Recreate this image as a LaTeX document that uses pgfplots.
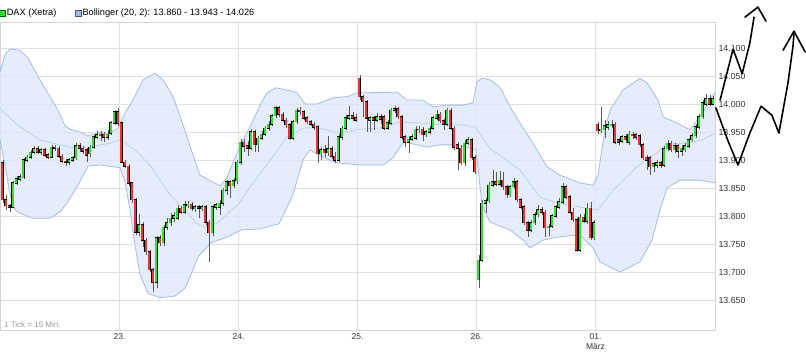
\documentclass[border=0pt]{standalone}
\usepackage{pgfplots}
\pgfplotsset{compat=1.18}
\usepackage{pgfplotstable}
\usepgfplotslibrary{fillbetween}
\usepackage{fontspec}
\setmainfont{Liberation Sans}
\definecolor{cgreen}{RGB}{45,225,45}
\definecolor{cred}{RGB}{238,50,50}
\definecolor{wickgray}{RGB}{90,90,90}
\definecolor{bandfill}{RGB}{222,232,251}
\definecolor{bandline}{RGB}{165,188,232}
\definecolor{midline}{RGB}{185,205,242}
\definecolor{gridgray}{RGB}{224,224,224}
\definecolor{framegray}{RGB}{212,212,212}
\definecolor{tickgray}{RGB}{51,51,51}
\definecolor{legblue}{RGB}{160,182,225}
\definecolor{legblueb}{RGB}{70,90,140}

\pgfplotstableread{
o h l c
13895 13900 13823 13829
13829 13838 13811 13818
13818 13821 13807 13816
13816 13863 13814 13859
13859 13871 13855 13866
13866 13875 13863 13870
13868 13904 13866 13900
13900 13909 13896 13905
13905 13918 13902 13914
13914 13925 13911 13920
13920 13925 13911 13914
13914 13921 13909 13918
13918 13921 13905 13909
13909 13913 13902 13905
13905 13927 13904 13923
13923 13927 13916 13921
13921 13925 13904 13907
13907 13911 13895 13898
13898 13902 13889 13896
13896 13904 13891 13900
13900 13907 13896 13904
13904 13930 13900 13925
13925 13930 13914 13921
13921 13925 13911 13916
13918 13921 13896 13909
13911 13927 13905 13923
13923 13945 13920 13941
13941 13952 13937 13945
13946 13952 13934 13943
13946 13950 13932 13941
13941 13954 13936 13946
13948 13970 13945 13966
13966 13989 13963 13986
13986 13993 13961 13966
13966 13968 13895 13896
13896 13900 13886 13889
13889 13893 13854 13859
13859 13861 13823 13829
13829 13832 13766 13771
13771 13804 13764 13784
13784 13789 13745 13757
13757 13761 13730 13736
13736 13739 13700 13704
13704 13707 13664 13682
13682 13764 13671 13761
13761 13766 13746 13752
13752 13784 13746 13780
13780 13796 13775 13788
13788 13805 13782 13796
13796 13807 13789 13800
13796 13820 13793 13814
13814 13818 13804 13807
13807 13827 13804 13820
13818 13827 13814 13821
13821 13825 13809 13813
13813 13820 13807 13816
13816 13820 13796 13814
13813 13820 13809 13816
13816 13820 13784 13789
13789 13793 13718 13770
13770 13820 13764 13816
13816 13823 13811 13820
13816 13829 13802 13823
13823 13850 13818 13846
13846 13864 13838 13861
13861 13864 13832 13854
13854 13868 13850 13863
13863 13900 13857 13896
13896 13937 13891 13932
13932 13937 13914 13925
13925 13934 13907 13921
13921 13955 13918 13950
13950 13954 13914 13927
13927 13943 13914 13939
13939 13952 13936 13946
13946 13961 13943 13957
13957 13970 13952 13964
13964 13982 13961 13979
13979 13996 13975 13993
13993 13996 13977 13982
13982 13986 13968 13971
13971 13975 13957 13963
13963 13966 13936 13939
13939 13971 13936 13968
13968 13993 13964 13989
13989 13995 13980 13986
13986 13989 13971 13975
13975 13979 13964 13968
13968 13971 13961 13964
13964 13968 13954 13959
13959 13963 13895 13911
13911 13923 13900 13918
13918 13927 13905 13913
13913 13943 13907 13920
13920 13925 13902 13907
13907 13914 13895 13900
13900 13946 13896 13941
13941 13961 13936 13957
13957 13980 13954 13975
13975 13996 13971 13979
13979 13986 13970 13975
13975 13982 13968 13971
14046 14052 14007 14013
14013 14016 13977 14004
14004 14007 13950 13975
13971 13979 13950 13975
13975 13979 13954 13971
13971 13984 13968 13977
13977 13982 13964 13973
13977 13980 13954 13957
13957 13971 13954 13966
13966 13993 13963 13989
13989 13996 13984 13991
13991 13995 13973 13977
13977 13980 13936 13941
13941 13945 13923 13932
13932 13943 13913 13937
13937 13946 13934 13941
13939 13961 13936 13955
13954 13961 13948 13955
13955 13959 13934 13945
13945 13954 13941 13950
13950 13961 13946 13957
13957 13979 13954 13975
13975 13989 13971 13982
13982 13986 13966 13970
13970 13973 13954 13964
13964 13993 13961 13989
13989 13993 13954 13957
13957 13961 13918 13923
13927 13932 13882 13921
13921 13927 13891 13895
13895 13936 13889 13930
13930 13941 13927 13936
13936 13939 13900 13904
13904 13909 13875 13879
13686 13730 13671 13721
13721 13829 13718 13823
13823 13832 13805 13827
13827 13861 13823 13855
13855 13882 13852 13861
13861 13879 13854 13857
13857 13880 13854 13864
13864 13879 13846 13852
13852 13855 13832 13838
13838 13855 13834 13852
13852 13868 13848 13861
13861 13864 13825 13829
13829 13832 13813 13816
13816 13820 13784 13788
13788 13791 13763 13775
13775 13793 13771 13788
13788 13807 13784 13802
13802 13820 13798 13811
13811 13816 13802 13807
13807 13811 13763 13779
13779 13786 13764 13782
13782 13804 13779 13800
13800 13820 13796 13816
13816 13832 13813 13825
13825 13859 13821 13852
13852 13855 13830 13834
13834 13838 13804 13807
13807 13814 13789 13793
13793 13796 13736 13739
13739 13804 13736 13798
13798 13804 13788 13791
13791 13823 13786 13814
13814 13825 13757 13761
13761 13793 13757 13788
13964 13968 13946 13952
13952 13995 13948 13955
13954 13971 13939 13961
13959 13970 13954 13963
13961 13971 13957 13964
13964 13968 13929 13932
13936 13939 13927 13932
13934 13945 13930 13941
13941 13946 13930 13936
13932 13952 13927 13946
13946 13950 13937 13943
13945 13948 13936 13941
13943 13946 13923 13927
13927 13930 13900 13904
13905 13909 13882 13900
13904 13907 13873 13888
13888 13896 13879 13893
13891 13900 13886 13895
13895 13898 13886 13891
13891 13925 13888 13920
13920 13936 13916 13930
13930 13934 13914 13918
13918 13930 13913 13925
13925 13929 13904 13916
13916 13927 13907 13921
13918 13930 13914 13925
13925 13939 13921 13936
13936 13948 13932 13943
13943 13964 13939 13959
13959 13982 13955 13977
13977 14007 13973 14002
14000 14018 13996 14009
14009 14016 13996 14000
14000 14014 13998 14009
}\candles

\pgfplotstableread{
x y
-0.14 14057
1.29 14088
2.71 14098
5.57 14096
7.86 14082
11.29 14043
14.14 14013
16.43 13989
18.43 13961
19.86 13955
22.71 13950
25.0 13943
27.57 13948
31.29 13948
33.57 13957
35.57 13984
37.86 14007
40.71 14043
44.14 14055
46.43 14043
49.29 14013
52.14 13963
55.0 13909
57.0 13873
59.86 13863
62.71 13854
64.71 13868
66.43 13896
69.29 13936
71.29 13959
74.14 13998
76.14 14020
78.71 14029
81.86 14025
84.71 14020
87.0 14000
90.43 14000
95.0 14011
99.0 14013
101.86 14020
103.57 14020
113.29 14021
116.14 14007
120.71 14007
123.57 13995
127.57 13998
132.14 13998
135.0 14002
136.14 14040
137.57 14046
139.86 14043
142.71 14030
145.57 13995
148.43 13966
152.14 13930
156.14 13888
159.86 13873
165.57 13859
169.29 13855
170.71 13873
172.71 13954
174.14 13989
177.86 14025
182.71 14046
184.71 14038
187.86 14007
189.29 13977
193.29 13966
197.0 13954
199.86 13977
202.71 14007
204.14 14021
}\bandU

\pgfplotstableread{
x y
-0.14 13991
5.57 13959
11.29 13936
17.0 13927
21.29 13921
25.57 13923
31.29 13930
34.14 13936
38.43 13918
43.0 13888
48.43 13838
52.71 13811
55.57 13789
58.43 13780
62.14 13788
65.0 13805
67.86 13820
72.71 13864
76.71 13896
81.57 13939
86.43 13957
91.0 13957
96.71 13948
103.0 13955
108.43 13957
114.14 13968
119.86 13966
125.57 13963
131.29 13963
135.57 13959
139.86 13920
142.71 13908
148.43 13882
154.14 13834
159.0 13823
165.57 13816
170.71 13811
175.0 13846
181.86 13888
187.57 13913
190.43 13930
196.14 13930
200.71 13936
204.14 13948
}\bandM

\pgfplotstableread{
x y
-0.14 13936
1.29 13891
2.71 13838
4.14 13811
5.57 13805
9.29 13796
14.14 13796
17.0 13807
19.0 13823
21.86 13852
25.0 13889
28.43 13891
32.14 13888
34.14 13886
35.57 13861
37.0 13811
38.43 13748
39.86 13695
42.14 13662
45.57 13654
49.86 13657
52.71 13671
54.14 13691
56.43 13727
60.14 13752
65.0 13763
68.71 13775
74.14 13777
79.57 13786
83.57 13838
86.43 13900
88.43 13918
92.14 13905
95.86 13895
103.0 13891
109.29 13891
112.14 13904
114.14 13923
115.57 13934
117.57 13929
121.86 13923
125.57 13927
129.29 13927
133.29 13923
135.86 13918
136.43 13886
137.57 13820
139.86 13789
145.57 13775
149.29 13757
151.29 13743
155.0 13757
159.86 13763
165.57 13766
169.29 13743
171.29 13718
177.0 13700
182.71 13718
186.14 13757
188.43 13811
190.43 13850
194.14 13864
199.86 13864
204.14 13859
}\bandL

\begin{document}
\begin{tikzpicture}
\begin{axis}[
  at={(0pt,0pt)}, anchor=south west,
  scale only axis, width=715pt, height=308pt,
  xmin=-0.143, xmax=204.143, ymin=13596.4, ymax=14146.4,
  clip=false,
  axis line style={draw=framegray, line width=0.8pt},
  xtick={34,68,102,136,170},
  xticklabels={23.,24.,25.,26.,{01.\\März}},
  xticklabel style={align=center, text=tickgray, font=\fontsize{8.5}{10}\selectfont},
  ytick={13650,13700,...,14100},
  yticklabel pos=right,
  yticklabel style={text=tickgray, font=\fontsize{8.8}{10}\selectfont},
  scaled y ticks=false,
  /pgf/number format/fixed,
  /pgf/number format/precision=0,
  /pgf/number format/1000 sep={.},
  /pgf/number format/assume math mode=true,
  major tick length=0pt,
  grid=major,
  grid style={draw=gridgray, line width=0.8pt},
  legend columns=2,
  legend cell align=left,
  legend style={at={(0,1)}, anchor=west, yshift=9pt, xshift=-1pt,
    draw=none, fill=none, inner sep=0pt,
    font=\fontsize{9.2}{10}\selectfont,
    nodes={inner sep=1.6pt},
    /tikz/every even column/.append style={column sep=17pt}},
]
\addlegendimage{legend image code/.code={\draw[fill=cgreen, draw=black!60!green] (0pt,-2.8pt) rectangle (5.6pt,2.8pt);}}
\addlegendentry{DAX (Xetra)}
\addlegendimage{legend image code/.code={\draw[fill=legblue, draw=legblueb] (0pt,-2.8pt) rectangle (5.6pt,2.8pt);}}
\addlegendentry{Bollinger (20, 2): 13.860 - 13.943 - 14.026}

% Bollinger bands
\addplot[draw=none, name path=U, forget plot] table[x=x, y=y] {\bandU};
\addplot[draw=none, name path=L, forget plot] table[x=x, y=y] {\bandL};
\addplot[fill=bandfill, fill opacity=0.8, forget plot] fill between[of=U and L];
\addplot[draw=bandline, line width=0.8pt, forget plot] table[x=x, y=y] {\bandU};
\addplot[draw=bandline, line width=0.8pt, forget plot] table[x=x, y=y] {\bandL};
\addplot[draw=midline, line width=0.7pt, forget plot] table[x=x, y=y] {\bandM};

% wicks
\addplot[forget plot, draw=none, mark=none,
  error bars/.cd, y dir=plus, y explicit, error mark=none,
  error bar style={line width=1pt, draw=wickgray}]
  table[x expr=\coordindex+0.8, y=l, y error plus expr={\thisrow{h}-\thisrow{l}}] {\candles};
% body outlines
\addplot[forget plot, draw=none, mark=none,
  error bars/.cd, y dir=plus, y explicit, error mark=none,
  error bar style={line width=3.4pt, draw=black}]
  table[x expr=\coordindex+0.5, y expr={min(\thisrow{o},\thisrow{c})-1.0},
        y error plus expr={abs(\thisrow{c}-\thisrow{o})+2.0}] {\candles};
% red bodies
\addplot[forget plot, draw=none, mark=none,
  error bars/.cd, y dir=plus, y explicit, error mark=none,
  error bar style={line width=2.2pt, draw=cred}]
  table[x expr=\coordindex+0.5, y expr={min(\thisrow{o},\thisrow{c})},
        y error plus expr={\thisrow{c}<\thisrow{o} ? \thisrow{o}-\thisrow{c} : 0}] {\candles};
% green bodies
\addplot[forget plot, draw=none, mark=none,
  error bars/.cd, y dir=plus, y explicit, error mark=none,
  error bar style={line width=2.2pt, draw=cgreen}]
  table[x expr=\coordindex+0.5, y expr={min(\thisrow{o},\thisrow{c})},
        y error plus expr={\thisrow{c}>\thisrow{o} ? \thisrow{c}-\thisrow{o} : 0}] {\candles};

\node[anchor=south west, inner sep=1pt, xshift=3pt, yshift=1.5pt, text=black!40,
      font=\fontsize{8}{9}\selectfont] at (rel axis cs:0,0) {1 Tick = 15 Min.};

% hand-drawn arrows
\addplot[black, line width=1.6pt, line join=round, line cap=round, forget plot] coordinates {
(205.6,14007) (209.3,14098) (211.9,14054) (214.1,14109) (215.3,14155)};
\addplot[black, line width=1.6pt, line join=round, line cap=round, forget plot] coordinates {
(212.7,14155) (216.4,14173) (218.7,14148)};
\addplot[black, line width=1.6pt, line join=round, line cap=round, forget plot] coordinates {
(204.4,13993) (207.8,13935) (210.7,13891) (214.1,13948) (217.3,13996) (220.4,13980) (222.4,13948) (225.0,14038) (226.4,14102) (226.7,14125)};
\addplot[black, line width=1.6pt, line join=round, line cap=round, forget plot] coordinates {
(223.6,14096) (226.7,14130) (229.9,14093)};
\end{axis}
\pgfresetboundingbox
\path[use as bounding box] (0pt,-26pt) rectangle (806pt,330pt);
\end{tikzpicture}
\end{document}
